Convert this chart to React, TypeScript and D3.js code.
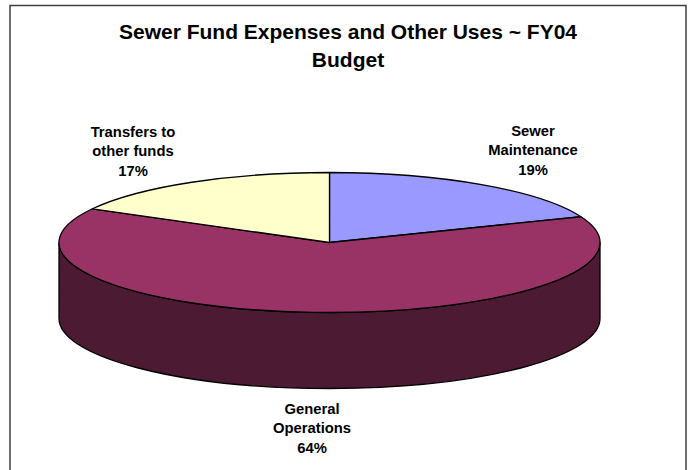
import React, { useEffect, useRef } from 'react';
import * as d3 from 'd3';

const categories = ['Sewer Maintenance', 'General Operations', 'Transfers to other funds'];
const shares = [19, 64, 17];
const fills = ['#9999ff', '#993366', '#ffffcc'];
const titleLines = ['Sewer Fund Expenses and Other Uses ~ FY04', 'Budget'];
const labelLines = [['Sewer', 'Maintenance', '19%'], ['General', 'Operations', '64%'], ['Transfers to', 'other funds', '17%']];
const labelCentres = [[533, 150], [312, 428], [133, 151]];

const width = 691;
const height = 470;
const cx = 329.5;
const cy = 242.5;
const rx = 270.5;
const ry = 70;
const depth = 76;
const font = '"Liberation Sans", Arial, sans-serif';

export default function App() {
  const svgRef = useRef<SVGSVGElement>(null);

  useEffect(() => {
    const svg = d3.select(svgRef.current);
    svg.selectAll('*').remove(); // Clear SVG before redrawing

    svg.append('rect').attr('width', width).attr('height', height).attr('fill', '#fff');

    // chart frame, open at the bottom edge of the picture
    svg.append('path')
      .attr('d', `M10,${height}V5.5H686V${height}`)
      .attr('fill', 'none')
      .attr('stroke', '#404040')
      .attr('stroke-width', 1.5);

    // side wall of the pie
    svg.append('path')
      .attr('d', `M${cx - rx},${cy}A${rx},${ry} 0 0 0 ${cx + rx},${cy}V${cy + depth}A${rx},${ry} 0 0 1 ${cx - rx},${cy + depth}Z`)
      .attr('fill', '#4d1a33')
      .attr('stroke', '#000')
      .attr('stroke-width', 1.3);

    const pie = d3.pie<number>().sort(null);
    const arc = d3.arc<d3.PieArcDatum<number>>().innerRadius(0).outerRadius(rx);

    // top face: a flat pie squashed to the ellipse
    svg.append('g')
      .attr('transform', `translate(${cx},${cy}) scale(1,${ry / rx})`)
      .selectAll('path')
      .data(pie(shares))
      .join('path')
      .attr('d', arc)
      .attr('fill', (_, i) => fills[i])
      .attr('stroke', '#000')
      .attr('stroke-width', 1.3)
      .attr('vector-effect', 'non-scaling-stroke')
      .attr('stroke-linejoin', 'round')
      .append('title')
      .text((_, i) => categories[i]);

    const title = svg.append('g')
      .attr('font-family', font)
      .attr('font-weight', 'bold')
      .attr('font-size', 21)
      .attr('text-anchor', 'middle');
    titleLines.forEach((line, i) => {
      title.append('text').attr('x', 348).attr('y', 39 + i * 27.5).text(line);
    });

    labelLines.forEach((lines, i) => {
      const g = svg.append('g')
        .attr('font-family', font)
        .attr('font-weight', 'bold')
        .attr('font-size', 14.8)
        .attr('text-anchor', 'middle');
      lines.forEach((line, j) => {
        g.append('text')
          .attr('x', labelCentres[i][0])
          .attr('y', labelCentres[i][1] + (j - 1) * 19.5 + 5)
          .text(line);
      });
    });
  }, []);

  return (
    <svg
      ref={svgRef}
      width={width}
      height={height}
      style={{ position: 'fixed', left: 0, top: 0, display: 'block' }}
    ></svg>
  );
}
